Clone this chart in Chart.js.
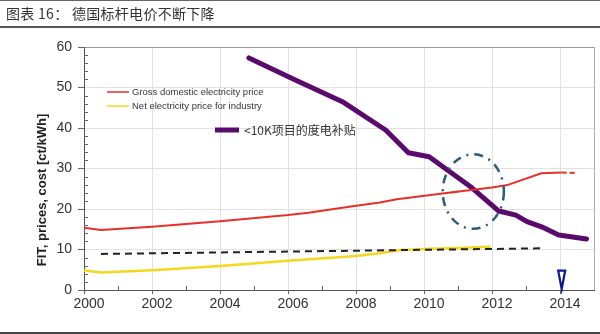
<!DOCTYPE html>
<html>
<head>
<meta charset="utf-8">
<script src="https://cdn.jsdelivr.net/npm/chart.js@4/dist/chart.umd.min.js"></script>
<style>
  html, body { margin:0; padding:0; background:#fff; }
  #wrap { position:absolute; left:0; top:0; width:600px; height:334px; }
  #topline { position:absolute; left:0; top:0; width:600px; height:1px; background:#666; }
  #title { position:absolute; left:6px; top:3px; font:14px "Noto Sans CJK SC", sans-serif; color:#333; letter-spacing:0.3px; }
  #titleline { position:absolute; left:0; top:26px; width:600px; height:2px; background:#555; }
  #botline { position:absolute; left:0; top:332px; width:600px; height:2px; background:#444; }
  canvas { position:absolute; left:0; top:0; }
</style>
</head>
<body>
<div id="wrap">
  <canvas id="c" width="600" height="334"></canvas>
  <div id="topline"></div>
  <div id="title">图表 16： 德国标杆电价不断下降</div>
  <div id="titleline"></div>
  <div id="botline"></div>
</div>
<script>
// ---- data ----
const grossYears   = [2000, 2000.5, 2002, 2004, 2006, 2006.6, 2007.9, 2008.7, 2009.2, 2010.6, 2012.0, 2012.45, 2013.45, 2014.05];
const grossValues  = [15.4, 14.8,   15.6, 17.0, 18.5, 19.1,   20.7,   21.6,   22.4,   23.9,   25.3,   25.9,    28.8,    29.0];
const grossTailYears  = [2014.05, 2014.5];
const grossTailValues = [29.0, 28.9];
const greenYears   = [2010.8, 2011.0];
const greenValues  = [24.1, 24.3];
const industryYears  = [2000, 2000.5, 2002, 2002.5, 2004, 2006, 2008, 2008.7, 2009.3, 2010, 2011, 2011.96];
const industryValues = [4.8,  4.3,    4.9,  5.1,    5.9,  7.2,  8.4,  9.1,    9.9,    10.1, 10.4, 10.7];
const dashedYears  = [2000.5, 2013.5];
const dashedValues = [8.9, 10.3];
const fitYears  = [2004.85, 2006.2, 2007.6, 2008.87, 2009.54, 2010.15, 2011.4, 2012.2, 2012.7, 2013.03, 2013.46, 2013.96, 2014.78];
const fitValues = [57.3,    51.9,   46.5,   39.5,    33.9,    32.9,    25.3,   19.5,   18.5,   16.9,    15.6,    13.6,    12.6];
const ellipseCenter = [2011.45, 24.3];   // [year, value]
const ellipseRadius = [0.9, 9.2];        // [years, value units]
const markerPoint   = [2014.05, 4.8];    // triangle top [year, value]; tip at 0
const xTickValues = [2000, 2002, 2004, 2006, 2008, 2010, 2012, 2014, 2015];
const xTickLabels = ['2000','2002','2004','2006','2008','2010','2012','2014',''];
const legendLabels = ['Gross domestic electricity price', 'Net electricity price for industry', '<10K项目的度电补贴'];
const yTitle = 'FIT, prices, cost [ct/kWh]';

const pts = (xs, ys) => xs.map((x, i) => ({x: x, y: ys[i]}));
const FONT = '"Liberation Sans", Arial, sans-serif';

const overlay = {
  id: 'overlay',
  afterDatasetsDraw(chart) {
    const ctx = chart.ctx, xs = chart.scales.x, ys = chart.scales.y;
    const cx = xs.getPixelForValue(ellipseCenter[0]);
    const cy = ys.getPixelForValue(ellipseCenter[1]);
    const rx = xs.getPixelForValue(ellipseCenter[0] + ellipseRadius[0]) - cx;
    const ry = cy - ys.getPixelForValue(ellipseCenter[1] + ellipseRadius[1]);
    ctx.save();
    ctx.strokeStyle = '#2f5b7a';
    ctx.lineWidth = 2.5;
    ctx.setLineDash([9, 6, 2, 6]);
    ctx.beginPath();
    ctx.ellipse(cx, cy, rx, ry, 0, 0, Math.PI * 2);
    ctx.stroke();
    ctx.restore();
    const mx = xs.getPixelForValue(markerPoint[0]);
    const mt = ys.getPixelForValue(markerPoint[1]);
    const mb = ys.getPixelForValue(0);
    ctx.save();
    ctx.strokeStyle = '#16168c';
    ctx.fillStyle = '#ffffff';
    ctx.lineWidth = 2.2;
    ctx.beginPath();
    ctx.moveTo(mx - 3.5, mt);
    ctx.lineTo(mx + 3.5, mt);
    ctx.lineTo(mx, mb - 1);
    ctx.closePath();
    ctx.fill();
    ctx.stroke();
    ctx.restore();
  },
  afterDraw(chart) {
    const ctx = chart.ctx, xs = chart.scales.x, ys = chart.scales.y;
    const a = chart.chartArea;
    ctx.save();
    ctx.strokeStyle = '#666';
    ctx.lineWidth = 1;
    ctx.beginPath();
    for (let yr = 2001; yr <= 2014; yr += 2) {
      const px = Math.round(xs.getPixelForValue(yr)) + 0.5;
      ctx.moveTo(px, a.bottom);
      ctx.lineTo(px, a.bottom - 4);
    }
    for (let v = 2; v < 60; v += 2) {
      if (v % 10 === 0) continue;
      const py = Math.round(ys.getPixelForValue(v)) + 0.5;
      ctx.moveTo(a.left, py);
      ctx.lineTo(a.left + 4, py);
    }
    ctx.stroke();
    ctx.translate(42, 190);
    ctx.rotate(-Math.PI / 2);
    ctx.font = 'bold 13px ' + FONT;
    ctx.fillStyle = '#222';
    ctx.textAlign = 'center';
    ctx.textBaseline = 'middle';
    ctx.fillText(yTitle, 0, 0);
    ctx.restore();
    ctx.save();
    ctx.textBaseline = 'middle';
    ctx.lineWidth = 1.5;
    ctx.strokeStyle = '#e8302a';
    ctx.beginPath(); ctx.moveTo(107, 92); ctx.lineTo(129, 92); ctx.stroke();
    ctx.strokeStyle = '#f4d81c';
    ctx.beginPath(); ctx.moveTo(107, 106); ctx.lineTo(129, 106); ctx.stroke();
    ctx.font = '9.5px ' + FONT;
    ctx.fillStyle = '#333';
    ctx.fillText(legendLabels[0], 132, 92);
    ctx.fillText(legendLabels[1], 132, 106);
    ctx.strokeStyle = '#5a0a6c';
    ctx.lineWidth = 5;
    ctx.beginPath(); ctx.moveTo(215, 130); ctx.lineTo(239, 130); ctx.stroke();
    ctx.font = '12px "Noto Sans CJK SC", sans-serif';
    ctx.fillText(legendLabels[2], 244, 130);
    ctx.restore();
  }
};

new Chart(document.getElementById('c'), {
  type: 'line',
  data: {
    datasets: [
      { data: pts(dashedYears, dashedValues), borderColor: '#222', borderWidth: 2, borderDash: [7, 5] },
      { data: pts(industryYears, industryValues), borderColor: '#f4d81c', borderWidth: 2.5 },
      { data: pts(grossYears, grossValues), borderColor: '#e8302a', borderWidth: 2 },
      { data: pts(grossTailYears, grossTailValues), borderColor: '#e8302a', borderWidth: 2, borderDash: [5, 3] },
      { data: pts(greenYears, greenValues), borderColor: '#8fd048', borderWidth: 2.5 },
      { data: pts(fitYears, fitValues), borderColor: '#5a0a6c', borderWidth: 5, borderCapStyle: 'round', borderJoinStyle: 'round' }
    ]
  },
  options: {
    responsive: false,
    animation: false,
    devicePixelRatio: 1,
    elements: { point: { radius: 0 }, line: { tension: 0 } },
    layout: { padding: { top: 47, right: 6, left: 0, bottom: 0 } },
    plugins: { legend: { display: false }, tooltip: { enabled: false } },
    scales: {
      x: {
        type: 'linear', min: 2000, max: 2015,
        afterFit: s => { s.height = 44; },
        afterBuildTicks: s => { s.ticks = xTickValues.map(v => ({ value: v })); },
        ticks: {
          autoSkip: false, maxRotation: 0, padding: 2, labelOffset: 5,
          color: '#333', font: { size: 14, family: FONT },
          callback: v => xTickLabels[xTickValues.indexOf(v)] || ''
        },
        grid: {
          tickLength: 4,
          color: c => (c.tick && c.tick.value === 2015 ? '#aaa' : '#e2e2e2'),
          tickColor: c => (c.tick && c.tick.value === 2015 ? 'rgba(0,0,0,0)' : '#666')
        },
        border: { color: '#555', width: 1 }
      },
      y: {
        min: 0, max: 60,
        afterFit: s => { s.width = 84; },
        ticks: { stepSize: 10, padding: 6, color: '#333', font: { size: 14, family: FONT } },
        grid: {
          tickLength: 6,
          color: c => (c.tick && c.tick.value === 60 ? '#999' : '#e2e2e2'),
          tickColor: '#666'
        },
        border: { color: '#555', width: 1 }
      }
    }
  },
  plugins: [overlay]
});
</script>
</body>
</html>
